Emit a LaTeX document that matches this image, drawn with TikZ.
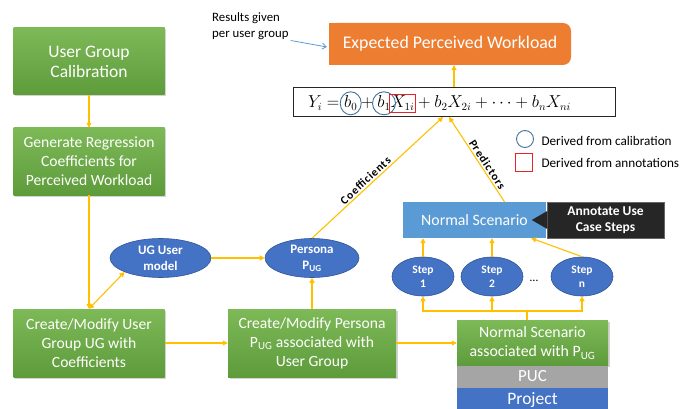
\documentclass[tikz,border=0pt]{standalone}
\usepackage{fontspec}
\setmainfont{Carlito}
\usetikzlibrary{arrows.meta,shadows,fit,calc,shapes.geometric}
\definecolor{gtop}{HTML}{7DB957}
\definecolor{gbot}{HTML}{5E9B3B}
\definecolor{arrowy}{HTML}{FFC000}
\definecolor{elblue}{HTML}{4472C4}
\definecolor{elborder}{HTML}{2F5597}
\definecolor{nsblue}{HTML}{5B9BD5}
\definecolor{wlorange}{HTML}{ED7D31}
\definecolor{pucgray}{HTML}{A5A5A5}
\definecolor{annblack}{HTML}{262626}
\definecolor{legred}{HTML}{E8242B}
\definecolor{legblue}{HTML}{41719C}
\tikzset{
  gbox/.style={rectangle, top color=gtop, bottom color=gbot, text=white, align=center,
    inner sep=2pt, drop shadow={shadow xshift=1.5pt, shadow yshift=-1.5pt, opacity=0.35}},
  ell/.style={ellipse, fill=elblue, draw=elborder, line width=0.6pt, text=white, align=center,
    inner sep=0pt},
  arr/.style={draw=arrowy, line width=1.1pt, -{Triangle[length=5pt,width=5pt]}},
  darr/.style={draw=arrowy, line width=1.1pt, {Triangle[length=5pt,width=5pt]}-{Triangle[length=5pt,width=5pt]}},
  yline/.style={draw=arrowy, line width=1.1pt},
  fp/.style={inner sep=0pt, outer sep=0pt, anchor=base west, font=\fontsize{16}{19}\selectfont},
  lbl/.style={font=\bfseries\fontsize{11.5}{14}\selectfont\addfontfeatures{LetterSpace=8}, inner sep=1.5pt},
  legtxt/.style={anchor=west, font=\fontsize{13.2}{15}\selectfont},
}
\begin{document}
\begin{tikzpicture}[x=1pt,y=-1pt]
\useasboundingbox (0,0) rectangle (683,409);

% green process boxes
\node[gbox, minimum width=151pt, minimum height=67pt, font=\fontsize{17.5}{20}\selectfont] (cal) at (89,61.5) {User Group\\Calibration};
\node[gbox, minimum width=151pt, minimum height=67pt, font=\fontsize{15.6}{19}\selectfont] (gen) at (89,161.5) {Generate Regression\\Coefficients for\\Perceived Workload};
\node[gbox, minimum width=151pt, minimum height=68pt, font=\fontsize{15.6}{19}\selectfont] (ug) at (89,343) {Create/Modify User\\Group UG with\\Coefficients};
\node[gbox, minimum width=168pt, minimum height=68pt, font=\fontsize{15.6}{19}\selectfont] (pbox) at (312,343) {Create/Modify Persona\\P\textsubscript{UG} associated with\\User Group};
\node[gbox, minimum width=151pt, minimum height=45pt, font=\fontsize{15.8}{19}\selectfont] (nsa) at (532.5,343) {Normal Scenario\\associated with P\textsubscript{UG}};
\node[rectangle, fill=pucgray, text=white, minimum width=151pt, minimum height=22pt, inner sep=0pt, font=\fontsize{17}{18}\selectfont] (puc) at (532.5,376.5) {PUC};
\node[rectangle, fill=elblue, text=white, minimum width=151pt, minimum height=24pt, inner sep=0pt, font=\fontsize{17.5}{19}\selectfont] (proj) at (532.5,399.5) {Project};

% ellipses
\node[ell, minimum width=101pt, minimum height=39pt, font=\bfseries\fontsize{13}{16}\selectfont] (ugm) at (160.5,258) {UG User\\model};
\node[ell, minimum width=94pt, minimum height=39pt, font=\bfseries\fontsize{13}{16}\selectfont] (pers) at (312,258) {Persona\\P\textsubscript{UG}};
\node[ell, minimum width=62pt, minimum height=39pt, font=\bfseries\fontsize{11.5}{14}\selectfont] (s1) at (423,276.5) {Step\\1};
\node[ell, minimum width=62pt, minimum height=39pt, font=\bfseries\fontsize{11.5}{14}\selectfont] (s2) at (492,276.5) {Step\\2};
\node[ell, minimum width=62pt, minimum height=39pt, font=\bfseries\fontsize{11.5}{14}\selectfont] (sn) at (582,276.5) {Step\\n};
\node[font=\fontsize{12}{14}\selectfont] (dots) at (534,281) {\ldots};

% normal scenario and annotation
\node[rectangle, fill=nsblue, text=white, minimum width=143pt, minimum height=36pt, font=\fontsize{15.8}{18}\selectfont] (ns) at (474.5,220) {Normal Scenario};
\node[rectangle, fill=annblack, draw=black!60, line width=0.5pt, text=white, align=center, minimum width=117pt, minimum height=36pt, font=\bfseries\fontsize{13.5}{16}\selectfont] (ann) at (605.5,220) {Annotate Use\\Case Steps};
\fill[annblack] ($(ann.west)+(0.5,-9)$) -- ($(ann.west)+(-15,0)$) -- ($(ann.west)+(0.5,9)$) -- cycle;

% expected perceived workload
\fill[wlorange, rounded corners=8pt] (329,23) rectangle (571,65);
\fill[wlorange] (329,23) rectangle (450,65);
\node[text=white, font=\fontsize{17.8}{20}\selectfont, minimum width=242pt, minimum height=42pt] (exp) at (450,44) {Expected Perceived Workload};

\node[align=left, anchor=north west, inner sep=0pt, font=\fontsize{12.8}{16}\selectfont] (res) at (212,12) {Results given\\per user group};
\draw[nsblue, line width=0.8pt, -{Straight Barb[length=4pt,width=6pt]}] ($(res.south east)+(2,1)$) -- ($(exp.west)+(-2,3)$);

% formula
\node[draw=black!85, line width=0.8pt, minimum width=322pt, minimum height=29pt] (fbox) at (454,101.5) {};
\node[fp] (fY) at (308,108) {$Y_i ={}$};
\node[fp] (fb0) at (fY.base east) {$b_0$};
\node[fp] (fpl) at (fb0.base east) {${}+{}$};
\node[fp] (fb1) at (fpl.base east) {$b_1$};
\node[fp] (fX1) at (fb1.base east) {$X_{1i}$};
\node[fp] (frest) at (fX1.base east) {${}+b_2X_{2i}+\cdots+b_nX_{ni}$};
\draw[legblue, line width=0.9pt] (fb0.center) ellipse [x radius=10.5pt, y radius=11.5pt];
\draw[legblue, line width=0.9pt] (fb1.center) ellipse [x radius=11.5pt, y radius=11.5pt];
\node[draw=legred, line width=0.9pt, fit=(fX1), inner xsep=1.5pt, inner ysep=2pt] (fred) {};

% legend
\node[draw=legblue, circle, line width=0.9pt, minimum size=17pt, inner sep=0pt] (lc) at (525,139) {};
\node[legtxt] (lct) at (538,141) {Derived from calibration};
\node[draw=legred, line width=0.9pt, minimum width=17pt, minimum height=18pt, inner sep=0pt] (lr) at (523.5,162) {};
\node[legtxt] (lrt) at (538,163) {Derived from annotations};

% connectors
\draw[arr] (cal) -- (gen);
\draw[arr] (gen) -- (ug);
\draw[darr] (ug.north) -- (ugm.south west);
\draw[arr] (ugm) -- (pers);
\draw[arr] (pbox) -- (pers);
\draw[arr] (ug) -- (pbox);
\draw[arr] (pbox) -- (nsa);
\coordinate (jn) at (527,311);
\draw[yline] (nsa.north -| jn) -- (jn);
\draw[arr] (jn) -| (s1);
\draw[arr] (jn) -| (s2);
\draw[arr] (jn) -| (sn);
\draw[arr] (s1) -- (s1 |- ns.south);
\draw[arr] (s2) -- (s2 |- ns.south);
\coordinate (nstip) at ($(ns.south east)+(-15,0)$);
\draw[arr] (sn.north) -- (nstip);
\coordinate (fcoef) at (443,117);
\coordinate (fpred) at (449,117);
\coordinate (nstop) at ($(ns.north)+(30,0)$);
\draw[arr] (pers.north) -- node[lbl, sloped, above, pos=0.44] {Coefficients} (fcoef);
\draw[arr] (nstop) -- node[lbl, sloped, above, pos=0.40] {Predictors} (fpred);
\draw[arr] (fbox.north) -- (fbox.north |- exp.south);
\end{tikzpicture}
\end{document}
